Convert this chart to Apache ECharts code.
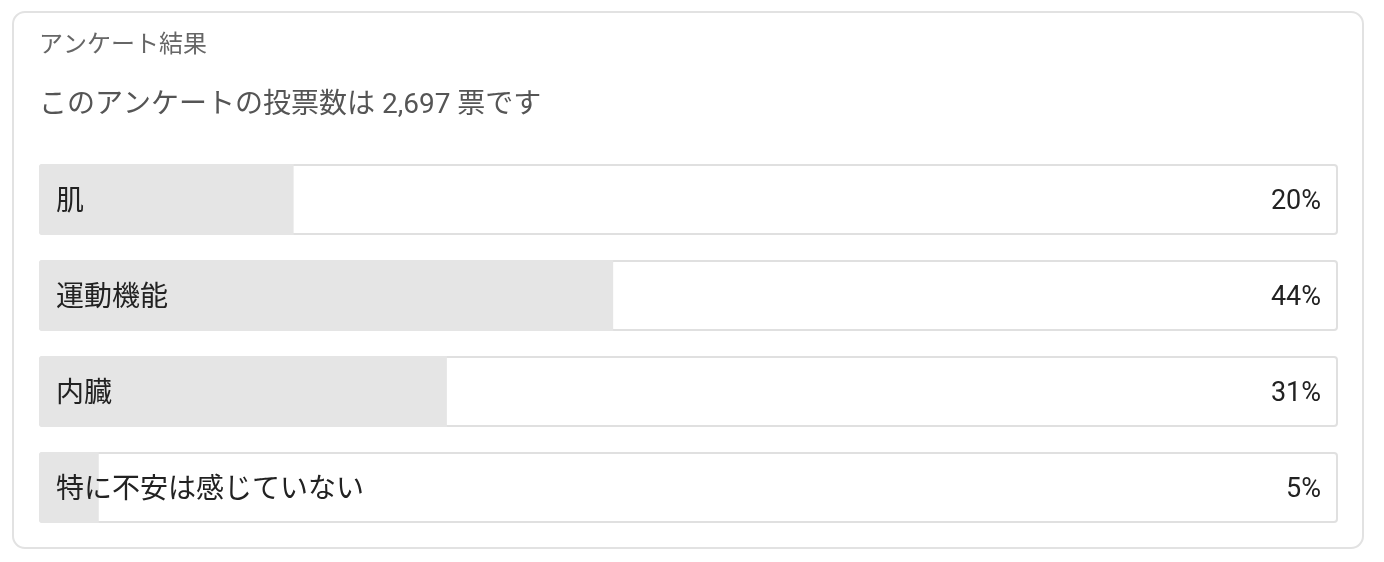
<!DOCTYPE html>
<html>
<head>
<meta charset="utf-8">
<script src="https://cdn.jsdelivr.net/npm/echarts@6/dist/echarts.min.js"></script>
<style>
html, body { margin: 0; padding: 0; background: #fff; }
#main { width: 1384px; height: 562px; }
</style>
</head>
<body>
<div id="main"></div>
<script>
var categories = ['肌', '運動機能', '内臓', '特に不安は感じていない'];
// bar lengths (shown rounded)
var shares = [19.6, 44.2, 31.4, 4.6];
var totalVotes = '2,697';

var fontJp = "Roboto, 'Noto Sans CJK JP', sans-serif";

var chart = echarts.init(document.getElementById('main'));

chart.setOption({
  animation: false,
  title: [{
    text: 'アンケート結果',
    left: 34,
    top: 29,
    textStyle: { fontSize: 24, fontWeight: 'normal', color: '#666', fontFamily: fontJp }
  }, {
    text: 'このアンケートの投票数は ' + totalVotes + ' 票です',
    left: 34,
    top: 87,
    textStyle: { fontSize: 28, fontWeight: 'normal', color: '#555', fontFamily: fontJp }
  }],
  graphic: [{
    type: 'rect',
    shape: { x: 13, y: 12, width: 1350, height: 536, r: 12 },
    style: { fill: 'none', stroke: '#e2e2e2', lineWidth: 2 },
    z: -1
  }],
  grid: { left: 39, right: 46, top: 151.5, bottom: 26.5 },
  xAxis: {
    type: 'value', min: 0, max: 100,
    show: false
  },
  yAxis: {
    type: 'category', data: categories, inverse: true,
    show: false
  },
  series: [{
    // 枠
    type: 'bar',
    data: categories.map(function () { return 100; }),
    barWidth: 71,
    silent: true,
    itemStyle: { color: '#fff', borderColor: '#e0e0e0', borderWidth: 2, borderRadius: 3 },
    label: {
      show: true,
      position: 'insideRight',
      distance: 17,
      offset: [0, 3],
      fontSize: 27,
      color: '#222',
      fontFamily: fontJp,
      formatter: function (p) { return Math.round(shares[p.dataIndex]) + '%'; }
    },
    z: 1
  }, {
    // 割合
    type: 'bar',
    data: shares,
    barWidth: 71,
    barGap: '-100%',
    itemStyle: { color: '#e5e5e5', borderRadius: [3, 0, 0, 3] },
    label: {
      show: true,
      position: 'insideLeft',
      distance: 17,
      offset: [0, 3],
      fontSize: 28,
      color: '#222',
      fontFamily: fontJp,
      formatter: '{b}'
    },
    z: 2
  }]
});
</script>
</body>
</html>
